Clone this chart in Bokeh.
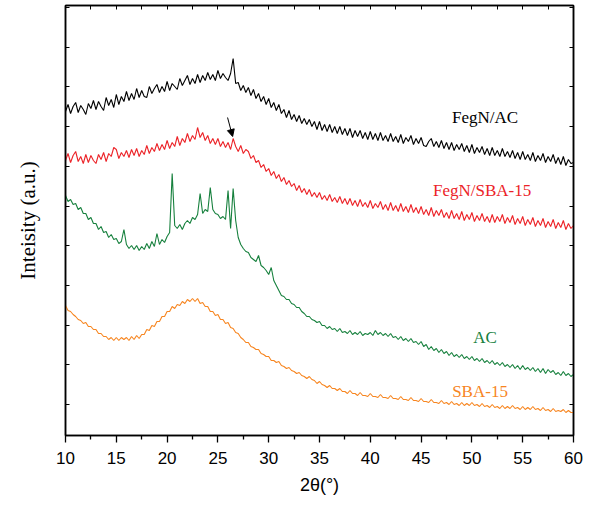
import numpy as np
from bokeh.plotting import figure
from bokeh.models import Range1d, FixedTicker, LinearAxis, Arrow, NormalHead, CustomLabelingPolicy
from bokeh.core.properties import value
from bokeh.embed import file_html
from bokeh.resources import INLINE

# 2-theta step grid of the diffractometer (0.25 deg)
two_theta = np.round(np.arange(10, 60.001, 0.25), 2)

fegn_ac = [
    324, 331, 322, 329, 333, 323, 330, 326, 321, 332, 327, 335, 326, 334, 329, 325,
    338, 330, 336, 328, 341, 331, 339, 334, 344, 335, 342, 336, 347, 338, 345, 339,
    338, 349, 342, 347, 351, 343, 349, 344, 354, 345, 352, 349, 346, 357, 350, 355,
    360, 351, 357, 352, 361, 353, 360, 355, 363, 356, 361, 355, 365, 357, 362, 358,
    355, 362, 377, 352, 353, 345, 350, 343, 348, 340, 346, 337, 342, 334, 339, 331,
    337, 328, 333, 325, 331, 322, 326, 318, 325, 316, 321, 314, 320, 312, 317, 311,
    316, 309, 314, 306, 314, 305, 311, 304, 311, 303, 309, 302, 309, 301, 307, 300,
    307, 298, 305, 299, 305, 297, 303, 296, 304, 296, 302, 295, 303, 295, 300, 294,
    302, 294, 299, 293, 301, 292, 298, 294, 300, 291, 297, 292, 298, 290, 289, 294,
    297, 289, 294, 288, 295, 287, 293, 286, 293, 285, 291, 286, 292, 284, 290, 283,
    291, 282, 288, 283, 289, 281, 287, 280, 288, 280, 285, 279, 287, 279, 284, 278,
    285, 277, 283, 276, 284, 276, 281, 275, 283, 274, 280, 275, 282, 273, 279, 274,
    281, 272, 278, 271, 279, 270, 276, 272, 273,
]

fegn_sba15 = [
    275, 282, 273, 280, 284, 274, 279, 272, 281, 273, 280, 275, 272, 281, 276, 283,
    274, 282, 279, 288, 286, 277, 283, 279, 285, 278, 286, 280, 287, 279, 285, 281,
    290, 282, 288, 284, 292, 285, 291, 286, 295, 287, 293, 289, 299, 290, 297, 293,
    302, 294, 300, 296, 308, 298, 303, 295, 300, 292, 297, 291, 297, 289, 294, 288,
    293, 286, 297, 289, 284, 290, 282, 286, 284, 277, 280, 273, 275, 268, 271, 264,
    267, 260, 264, 257, 261, 254, 258, 251, 255, 249, 252, 245, 250, 243, 247, 241,
    246, 239, 243, 238, 243, 236, 240, 235, 241, 234, 238, 233, 239, 232, 237, 231,
    237, 230, 235, 229, 236, 229, 233, 228, 235, 227, 232, 228, 234, 226, 231, 225,
    233, 225, 230, 224, 232, 224, 229, 223, 231, 223, 228, 222, 229, 221, 226, 220,
    228, 219, 225, 220, 226, 218, 223, 217, 225, 217, 222, 216, 224, 215, 221, 216,
    223, 214, 220, 215, 222, 214, 219, 213, 221, 213, 219, 214, 221, 212, 218, 213,
    220, 211, 217, 212, 219, 210, 216, 211, 218, 209, 215, 210, 217, 208, 214, 209,
    216, 207, 213, 208, 215, 206, 212, 207, 210,
]

ac = [
    240, 234, 236, 231, 232, 226, 228, 222, 222, 216, 218, 212, 212, 206, 209, 203,
    204, 198, 201, 196, 197, 192, 194, 206, 191, 187, 190, 186, 190, 185, 189, 186,
    192, 187, 194, 189, 202, 191, 196, 193, 199, 203, 262, 210, 207, 211, 206, 212,
    215, 212, 218, 216, 221, 242, 222, 226, 224, 248, 226, 222, 221, 217, 219, 216,
    245, 207, 247, 215, 198, 191, 187, 184, 183, 178, 176, 174, 180, 170, 168, 165,
    161, 168, 155, 150, 145, 140, 139, 136, 136, 132, 131, 128, 128, 124, 122, 119,
    119, 116, 115, 113, 114, 110, 110, 107, 109, 106, 107, 104, 107, 103, 104, 102,
    105, 101, 103, 101, 104, 100, 102, 101, 103, 100, 105, 101, 103, 100, 102, 99,
    102, 98, 99, 96, 99, 95, 97, 94, 97, 93, 94, 91, 94, 89, 91, 86,
    89, 85, 87, 83, 86, 82, 84, 80, 83, 79, 81, 78, 81, 77, 79, 76,
    79, 75, 77, 74, 77, 73, 75, 72, 75, 71, 73, 70, 73, 69, 71, 68,
    71, 67, 70, 66, 70, 66, 68, 65, 68, 64, 67, 63, 67, 62, 66, 63,
    65, 61, 63, 60, 64, 60, 62, 59, 61,
]

sba15 = [
    130, 125, 124, 121, 119, 116, 115, 112, 113, 109, 109, 106, 106, 102, 102, 99,
    99, 96, 98, 95, 98, 95, 98, 96, 98, 95, 99, 96, 100, 97, 101, 101,
    106, 105, 110, 109, 114, 114, 119, 119, 124, 124, 129, 127, 131, 130, 134, 132,
    136, 134, 137, 134, 137, 132, 133, 129, 129, 124, 124, 120, 121, 116, 116, 112,
    113, 108, 107, 103, 102, 98, 96, 93, 93, 89, 88, 86, 86, 82, 81, 79,
    79, 75, 75, 73, 74, 70, 69, 67, 68, 65, 64, 62, 63, 60, 59, 57,
    59, 56, 55, 52, 54, 51, 50, 48, 50, 47, 47, 45, 47, 44, 44, 42,
    45, 42, 42, 40, 43, 40, 40, 39, 42, 39, 39, 38, 41, 38, 38, 37,
    40, 37, 37, 36, 39, 36, 36, 35, 38, 35, 35, 34, 37, 34, 34, 33,
    36, 33, 33, 32, 35, 32, 33, 31, 34, 31, 32, 30, 33, 30, 32, 30,
    33, 30, 31, 29, 32, 29, 30, 28, 31, 28, 29, 27, 30, 27, 29, 27,
    30, 27, 28, 26, 29, 26, 28, 26, 29, 26, 27, 25, 28, 25, 26, 24,
    27, 24, 25, 24, 26, 23, 25, 23, 23,
]

series_names = ["FegN/AC", "FegN/SBA-15", "AC", "SBA-15"]
series_values = [fegn_ac, fegn_sba15, ac, sba15]
series_colors = ["#000000", "#ec2227", "#16803d", "#f7851f"]

x_ticks = [10, 15, 20, 25, 30, 35, 40, 45, 50, 55, 60]
x_minor = [12.5, 17.5, 22.5, 27.5, 32.5, 37.5, 42.5, 47.5, 52.5, 57.5]

p = figure(width=592, height=510, output_backend="svg", toolbar_location=None,
           x_range=Range1d(10, 60), y_range=Range1d(0, 430),
           min_border_left=65, min_border_right=19, min_border_top=5, min_border_bottom=75,
           x_axis_label="2θ(°)", y_axis_label="Inteisity (a.u.)")
p.background_fill_color = "white"
p.border_fill_color = "white"
p.grid.visible = False
p.outline_line_color = "black"
p.outline_line_width = 1.5

for vals, col in zip(series_values, series_colors):
    p.line(two_theta, vals, line_color=col, line_width=1.1)

y_tick_pos = [31 + 39.7 * k for k in range(11)]


def no_labels():
    return CustomLabelingPolicy(code="return []")


# bottom axis
xa = p.xaxis[0]
xa.ticker = FixedTicker(ticks=x_ticks, minor_ticks=x_minor)
xa.axis_line_width = 1.5
xa.axis_line_color = "black"
xa.major_tick_line_color = "black"
xa.minor_tick_line_color = "black"
xa.major_tick_in = 0
xa.major_tick_out = 7
xa.minor_tick_in = 0
xa.minor_tick_out = 4
xa.major_tick_line_width = 1.3
xa.minor_tick_line_width = 1.3
xa.major_label_text_font = "Liberation Sans"
xa.major_label_text_font_size = "17px"
xa.major_label_text_color = "black"
xa.major_label_standoff = 9
xa.axis_label_text_font = "Liberation Sans"
xa.axis_label_text_font_size = "18px"
xa.axis_label_text_font_style = "normal"
xa.axis_label_text_color = "black"
xa.axis_label_standoff = 8

# left axis
ya = p.yaxis[0]
ya.ticker = FixedTicker(ticks=y_tick_pos, minor_ticks=[])
ya.axis_line_width = 1.5
ya.axis_line_color = "black"
ya.major_tick_line_color = "black"
ya.major_tick_in = 4
ya.major_tick_out = 0
ya.minor_tick_in = 0
ya.minor_tick_out = 0
ya.major_label_policy = no_labels()
ya.major_label_text_font_size = "0px"
ya.major_label_standoff = 0
ya.axis_label_text_font = "Liberation Serif"
ya.axis_label_text_font_size = "21px"
ya.axis_label_text_font_style = "normal"
ya.axis_label_text_color = "black"
ya.axis_label_standoff = 26

# top axis
top = LinearAxis(ticker=FixedTicker(ticks=x_ticks + x_minor, minor_ticks=[]),
                 axis_line_width=1.5, axis_line_color="black",
                 major_tick_line_color="black", major_tick_in=4, major_tick_out=0,
                 minor_tick_in=0, minor_tick_out=0,
                 major_label_policy=no_labels(), major_label_text_font_size="0px",
                 major_label_standoff=0)
p.add_layout(top, "above")

# right axis
right = LinearAxis(ticker=FixedTicker(ticks=y_tick_pos, minor_ticks=[]),
                   axis_line_width=1.5, axis_line_color="black",
                   major_tick_line_color="black", major_tick_in=4, major_tick_out=0,
                   minor_tick_in=0, minor_tick_out=0,
                   major_label_policy=no_labels(), major_label_text_font_size="0px",
                   major_label_standoff=0)
p.add_layout(right, "right")

# series labels
label_pos = [(51.3, 318), (51.0, 245), (51.3, 98), (50.8, 44)]
for (lx, ly), name, col in zip(label_pos, series_names, series_colors):
    p.text(x=[lx], y=[ly], text=[name], text_color=col,
           text_font=value("Liberation Serif"), text_font_size="17px",
           text_align="center", text_baseline="middle")

p.add_layout(Arrow(end=NormalHead(size=7, fill_color="black", line_color="black"),
                   x_start=25.95, y_start=318, x_end=26.45, y_end=299,
                   line_color="black", line_width=1))

open("out.html", "w").write(file_html(p, INLINE))
